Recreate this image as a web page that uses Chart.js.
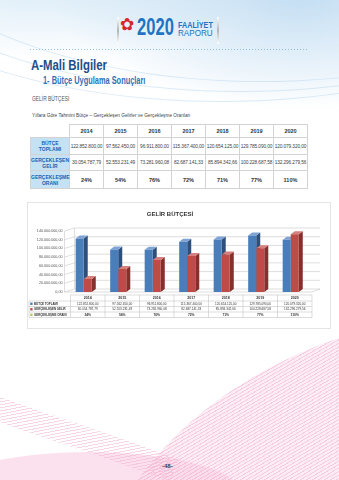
<!DOCTYPE html>
<html lang="tr">
<head>
<meta charset="UTF-8">
<title>Gelir Bütçesi</title>
<script src="https://cdn.jsdelivr.net/npm/chart.js@4"></script>
<style>
  body { margin:0; width:339px; height:480px; position:relative; overflow:hidden; background:#fff;
         font-family:'Liberation Sans', Arial, sans-serif; }
  .sky { position:absolute; left:0; top:0; width:339px; height:150px;
         background: radial-gradient(ellipse 250px 120px at 300px -10px, rgba(165,205,236,.7), rgba(255,255,255,0)),
                     radial-gradient(ellipse 220px 70px at 40px -10px, rgba(185,218,240,.5), rgba(255,255,255,0)); }
  .arc { position:absolute; border-radius:50%; border:1px solid rgba(170,206,234,.4); }
  .pink { position:absolute; left:80px; top:312px; width:840px; height:680px; border-radius:50%;
          background: repeating-linear-gradient(150deg, rgba(242,172,206,.6) 0 1px, rgba(250,218,234,.5) 1px 3px); }
  .band { position:absolute; left:-20px; top:390px; width:210px; height:24px; transform:rotate(19deg); transform-origin:0 0;
          background: repeating-linear-gradient(150deg, rgba(243,180,210,.55) 0 1px, rgba(255,255,255,0) 1px 3px); }
  .floor { position:absolute; left:-60px; top:452px; width:300px; height:80px; border-radius:50%;
           background: rgba(248,200,224,.55); }
  .sep { position:absolute; top:17px; width:2px; height:27px; background:linear-gradient(#fff,#b4b4b4,#fff); }
  .t { position:absolute; white-space:nowrap; transform-origin:0 0; }
  .dots { position:absolute; left:30px; top:49px; width:278px; height:1px;
          background: repeating-linear-gradient(to right, #8cc0e4 0 1.5px, transparent 1.5px 3px); }
  #tbl { position:absolute; left:30px; top:124px; width:278px; border-collapse:collapse; table-layout:fixed; background:#fff; }
  #tbl td { border:1px solid #d3d3d3; padding:0; text-align:center; white-space:nowrap; color:#444;
            font-size:4.8px; letter-spacing:-0.12px; }
  #tbl td.lab { background:#c5e2f5; color:#1c62b2; font-weight:bold; font-size:5px; line-height:6px; white-space:normal; letter-spacing:0; }
  #tbl tr.head td { font-weight:bold; font-size:5.5px; letter-spacing:0; color:#333; }
  #tbl tr.head td:first-child { border-top-color:#fff; border-left-color:#fff; }
  #tbl td.pct { font-weight:bold; font-size:5.5px; letter-spacing:0; color:#333; }
  .box { position:absolute; left:27px; top:202px; width:302px; height:125px; border:1px solid #e4e4e4; background:#fff; }
</style>
</head>
<body>
<div class="sky"></div>
<div class="arc" style="left:-160px;top:-230px;width:760px;height:330px;"></div>
<div class="arc" style="left:-140px;top:-250px;width:760px;height:340px;"></div>
<div class="arc" style="left:-120px;top:-270px;width:760px;height:350px;"></div>
<div class="floor"></div>
<div class="pink"></div>
<div class="band"></div>

<div class="sep" style="left:117px"></div>
<div class="sep" style="left:217px"></div>
<div class="t" style="left:120px;top:14px;font:17px 'DejaVu Sans';color:#d7262e;">✿</div>
<div class="t" style="left:137px;top:14px;font:bold 23px 'Liberation Sans';color:#1f74c4;transform:scaleX(.72);">2020</div>
<div class="t" style="left:178px;top:20px;font:bold 9px 'Liberation Sans';color:#2373bf;transform:scaleX(.8);">FAALİYET</div>
<div class="t" style="left:178px;top:28px;font:9px 'Liberation Sans';color:#2373bf;transform:scaleX(.9);">RAPORU</div>
<div class="dots"></div>

<div class="t" style="left:31px;top:56px;font:bold 15px 'Liberation Sans';color:#1d4e8a;transform:scaleX(.76);">A-Mali Bilgiler</div>
<div class="t" style="left:43px;top:75px;font:bold 10px 'Liberation Sans';color:#2e72b8;transform:scaleX(.74);">1- Bütçe Uygulama Sonuçları</div>
<div class="t" style="left:32px;top:95px;font:7px 'Liberation Sans';color:#555;transform:scaleX(.7);">GELİR BÜTÇESİ</div>
<div class="t" style="left:32px;top:112px;font:5.5px 'Liberation Sans';color:#444;transform:scaleX(.86);">Yıllara Göre Tahmini Bütçe – Gerçekleşen Gelirler ve Gerçekleşme Oranları</div>

<table id="tbl"></table>

<div class="box"><canvas id="gelirChart" width="302" height="125"></canvas></div>

<div class="t" style="left:162px;top:463px;font:bold 6px 'Liberation Sans';color:#3a3f63;">-48-</div>

<script>
  const years = ['2014', '2015', '2016', '2017', '2018', '2019', '2020'];
  const butceToplami = [122852800.00, 97562450.00, 96911800.00, 115367400.00, 120654125.00, 129785090.00, 120079320.00];
  const gerceklesenGelir = [30054787.79, 52553231.49, 73281960.08, 82687141.33, 85894342.66, 100228687.58, 132296279.56];
  const gerceklesmeOrani = [24, 54, 76, 72, 71, 77, 110];
  const seriesNames = ['BÜTÇE TOPLAMI', 'GERÇEKLEŞEN GELİR', 'GERÇEKLEŞME ORANI'];
  const yMax = 140000000;
  const yStep = 20000000;

  // 1.234.567,89
  function fmt(v) {
    const [i, d] = v.toFixed(2).split('.');
    return i.replace(/\B(?=(\d{3})+(?!\d))/g, '.') + ',' + d;
  }
  const pct = v => v + '%';

  // ust tablo
  const tbl = document.getElementById('tbl');
  let html = '<colgroup><col style="width:39px">' + years.map(() => '<col>').join('') + '</colgroup>';
  html += '<tr class="head" style="height:13px"><td></td>' + years.map(y => '<td>' + y + '</td>').join('') + '</tr>';
  html += '<tr style="height:17px"><td class="lab">' + seriesNames[0].replace(' ', '<br>') + '</td>' +
          butceToplami.map(v => '<td>' + fmt(v) + '</td>').join('') + '</tr>';
  html += '<tr style="height:16px"><td class="lab">' + seriesNames[1].replace(' ', '<br>') + '</td>' +
          gerceklesenGelir.map(v => '<td>' + fmt(v) + '</td>').join('') + '</tr>';
  html += '<tr style="height:18px"><td class="lab">' + seriesNames[2].replace(' ', '<br>') + '</td>' +
          gerceklesmeOrani.map(v => '<td class="pct">' + pct(v) + '</td>').join('') + '</tr>';
  tbl.innerHTML = html;

  const DX = 4, DY = 3;
  const colors = [
    { front: '#4a7ebb', side: '#2d4f7a', top: '#7ea3d4' },
    { front: '#be4b48', side: '#86302e', top: '#d67f7c' },
    { front: '#b9c95a', side: null, top: null }
  ];

  // 3B duvar, zemin ve cubuk yanlari
  const bars3d = {
    id: 'bars3d',
    beforeDatasetsDraw(chart) {
      const { ctx, chartArea: a, scales: { y } } = chart;
      const wl = a.left - 6;
      ctx.save();
      ctx.strokeStyle = '#c8c8c8';
      ctx.lineWidth = 0.6;
      y.ticks.forEach(t => {
        const py = y.getPixelForValue(t.value);
        ctx.beginPath();
        ctx.moveTo(wl, py);
        ctx.lineTo(wl + 10, py - DY);
        ctx.lineTo(a.right + 8, py - DY);
        ctx.stroke();
      });
      ctx.beginPath();
      ctx.moveTo(wl, a.top); ctx.lineTo(wl, a.bottom);
      ctx.moveTo(wl + 10, a.top - DY); ctx.lineTo(wl + 10, a.bottom - DY);
      ctx.moveTo(wl, a.bottom); ctx.lineTo(a.right, a.bottom); ctx.lineTo(a.right + 8, a.bottom - DY);
      ctx.stroke();

      chart.data.datasets.forEach((ds, i) => {
        const c = colors[i];
        if (!c.side) return;
        chart.getDatasetMeta(i).data.forEach(bar => {
          const { x, y: top, base, width } = bar.getProps(['x', 'y', 'base', 'width'], true);
          const l = x - width / 2, r = x + width / 2;
          ctx.fillStyle = c.side;
          ctx.beginPath();
          ctx.moveTo(r, top); ctx.lineTo(r + DX, top - DY); ctx.lineTo(r + DX, base - DY); ctx.lineTo(r, base);
          ctx.closePath(); ctx.fill();
          ctx.fillStyle = c.top;
          ctx.beginPath();
          ctx.moveTo(l, top); ctx.lineTo(l + DX, top - DY); ctx.lineTo(r + DX, top - DY); ctx.lineTo(r, top);
          ctx.closePath(); ctx.fill();
        });
      });
      ctx.restore();
    }
  };

  // grafik altindaki veri tablosu
  const dataTable = {
    id: 'dataTable',
    afterDraw(chart) {
      const { ctx, scales: { x } } = chart;
      const colW = x.width / years.length;
      const L = 1;
      const rows = [92, 98, 103.5, 109, 114.5];
      ctx.save();
      ctx.strokeStyle = '#b8b8b8';
      ctx.lineWidth = 0.5;
      ctx.beginPath();
      ctx.moveTo(x.left, rows[0]); ctx.lineTo(x.right, rows[0]);
      for (let r = 1; r < rows.length; r++) { ctx.moveTo(L, rows[r]); ctx.lineTo(x.right, rows[r]); }
      ctx.moveTo(L, rows[1]); ctx.lineTo(L, rows[4]);
      for (let k = 0; k <= years.length; k++) {
        const px = x.left + k * colW;
        ctx.moveTo(px, rows[0]); ctx.lineTo(px, rows[4]);
      }
      ctx.stroke();

      ctx.textAlign = 'center';
      ctx.textBaseline = 'middle';
      ctx.fillStyle = '#333';
      const mid = r => (rows[r] + rows[r + 1]) / 2;
      years.forEach((yr, i) => {
        const cx = x.getPixelForValue(i);
        ctx.font = 'bold 3.6px "Liberation Sans"';
        ctx.fillText(yr, cx, mid(0));
        ctx.font = '3.1px "Liberation Sans"';
        ctx.fillText(fmt(butceToplami[i]), cx, mid(1));
        ctx.fillText(fmt(gerceklesenGelir[i]), cx, mid(2));
        ctx.font = 'bold 3.3px "Liberation Sans"';
        ctx.fillText(pct(gerceklesmeOrani[i]), cx, mid(3));
      });
      ctx.textAlign = 'left';
      ctx.font = 'bold 2.9px "Liberation Sans"';
      seriesNames.forEach((n, i) => {
        ctx.fillStyle = colors[i].front;
        ctx.fillRect(L + 1.2, mid(i + 1) - 1.2, 2.4, 2.4);
        ctx.fillStyle = '#333';
        ctx.fillText(n, L + 5, mid(i + 1));
      });
      ctx.restore();
    }
  };

  new Chart(document.getElementById('gelirChart'), {
    type: 'bar',
    data: {
      labels: years,
      datasets: [
        { label: seriesNames[0], data: butceToplami, backgroundColor: colors[0].front },
        { label: seriesNames[1], data: gerceklesenGelir, backgroundColor: colors[1].front },
        { label: seriesNames[2], data: gerceklesmeOrani.map(v => v / 100), backgroundColor: colors[2].front }
      ]
    },
    options: {
      responsive: false,
      animation: false,
      layout: { padding: { left: 0, right: 18, top: 0, bottom: 0 } },
      datasets: { bar: { categoryPercentage: 0.7, barPercentage: 1 } },
      plugins: {
        legend: { display: false },
        tooltip: { enabled: false },
        title: {
          display: true,
          text: 'GELİR BÜTÇESİ',
          color: '#333',
          font: { family: 'Liberation Sans', size: 6, weight: 'bold' },
          padding: { top: 8, bottom: 12.8 }
        }
      },
      scales: {
        x: {
          grid: { display: false, drawTicks: false },
          border: { display: false },
          ticks: { display: false },
          afterFit: s => { s.height = 36; }
        },
        y: {
          min: 0,
          max: yMax,
          grid: { display: false, drawTicks: false },
          border: { display: false },
          ticks: {
            stepSize: yStep,
            padding: 8,
            color: '#555',
            font: { family: 'Liberation Sans', size: 3.7 },
            callback: v => fmt(v)
          },
          afterFit: s => { s.width = 42.5; }
        }
      }
    },
    plugins: [bars3d, dataTable]
  });
</script>
</body>
</html>
